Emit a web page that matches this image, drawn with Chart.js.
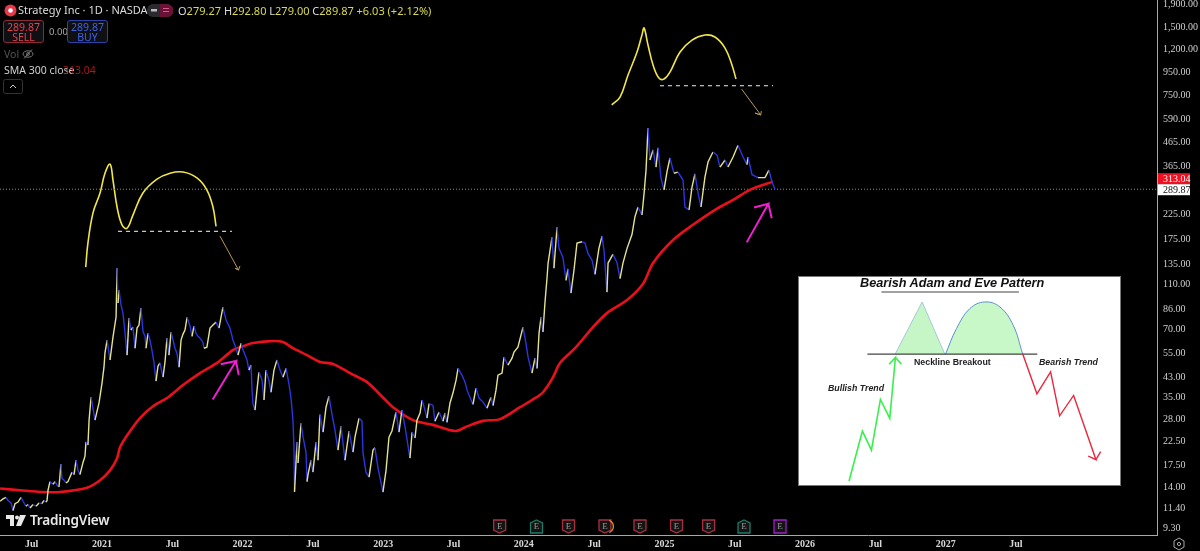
<!DOCTYPE html>
<html>
<head>
<meta charset="utf-8">
<title>Strategy Inc</title>
<script src="https://cdn.jsdelivr.net/npm/chart.js@4/dist/chart.umd.js"></script>
<style>
html, body { margin: 0; padding: 0; background: #000; overflow: hidden; }
#wrap { position: relative; width: 1200px; height: 551px; font-family: "Liberation Sans Narrow", "Noto Sans", sans-serif; }
#grafica { position: absolute; left: 0; top: 0; }
.t { position: absolute; white-space: nowrap; line-height: 1; }
#caja { position: absolute; left: 799px; top: 277px; width: 321px; height: 208px; background: #fff; box-shadow: 0 0 0 1px #777; }
#inset { position: absolute; left: 0; top: 0; }
.boton { position: absolute; box-sizing: border-box; width: 41px; height: 23px; top: 20px; border-radius: 3px; background: #101014; text-align: center; font-size: 10.5px; line-height: 10px; padding-top: 1px; }
</style>
</head>
<body>
<div id="wrap">
  <canvas id="grafica" width="1200" height="551"></canvas>

  <svg class="t" style="left:4px;top:4px" width="13" height="13"><circle cx="6.5" cy="6.5" r="6" fill="#e8384a"/><circle cx="6.5" cy="6.5" r="2.3" fill="#fff"/></svg>
  <div class="t" style="left:18px;top:4px;font-family:'Noto Sans';font-size:11px;color:#dcdcdc">Strategy Inc · 1D · NASDAQ</div>
  <svg class="t" style="left:147px;top:4px" width="26" height="13"><rect x="0" y="0" width="26" height="13" rx="6" fill="#2a2a2e"/><path d="M13 0h7a6 6 0 0 1 0 13h-7z" fill="#6a1238"/><rect x="4" y="5" width="6" height="2.5" fill="#bbb"/><rect x="16" y="4" width="6" height="1" fill="#d85a8a"/><rect x="16" y="7" width="6" height="1" fill="#d85a8a"/></svg>
  <div class="t" style="left:178px;top:5px;font-size:11px;color:#d9d94e"><span style="color:#ddd">O</span>279.27 <span style="color:#ddd">H</span>292.80 <span style="color:#ddd">L</span>279.00 <span style="color:#ddd">C</span>289.87 +6.03 (+2.12%)</div>

  <div class="boton" style="left:3px;border:1px solid #8c2a36;color:#e8404f">289.87<br>SELL</div>
  <div class="t" style="left:49px;top:27px;font-size:9.5px;color:#aaa">0.00</div>
  <div class="boton" style="left:67px;border:1px solid #2a44a8;color:#3c62e6">289.87<br>BUY</div>

  <div class="t" style="left:4px;top:49px;font-size:10.5px;color:#555">Vol</div>
  <svg class="t" style="left:22px;top:48px" width="12" height="12"><ellipse cx="6" cy="6" rx="5" ry="3.2" fill="none" stroke="#777"/><circle cx="6" cy="6" r="1.4" fill="none" stroke="#777"/><line x1="2" y1="10.5" x2="10" y2="1.5" stroke="#777"/></svg>
  <div class="t" style="left:4px;top:65px;font-size:10.5px;color:#cfcfcf">SMA 300 close</div>
  <div class="t" style="left:63px;top:65px;font-size:10.5px;color:#a81818">313.04</div>
  <svg class="t" style="left:3px;top:79px" width="20" height="15"><rect x="0.5" y="0.5" width="19" height="14" rx="2" fill="none" stroke="#333"/><path d="M7 9l3-3 3 3" fill="none" stroke="#ccc"/></svg>

  <svg class="t" style="left:6px;top:514px" width="20" height="13"><path d="M0 1h8v11h-4v-7h-4z" fill="#e8e8e8"/><circle cx="11" cy="3.5" r="2" fill="#e8e8e8"/><path d="M14 1h6l-5 11h-5z" fill="#e8e8e8"/></svg>
  <div class="t" style="left:30px;top:513px;font-family:'Noto Sans';font-size:13.6px;font-weight:600;color:#e8e8e8;letter-spacing:-0.2px">TradingView</div>

  <svg class="t" style="left:1172px;top:537px" width="14" height="14"><path d="M7 1l5 3v6l-5 3-5-3v-6z" fill="none" stroke="#aaa"/><circle cx="7" cy="7" r="1.6" fill="none" stroke="#aaa"/></svg>

  <div id="caja">
    <canvas id="inset" width="321" height="208"></canvas>
    <div class="t" style="left:61px;top:-1px;font:italic bold 12.7px 'Liberation Sans',sans-serif;color:#111">Bearish Adam and Eve Pattern</div>
    <div class="t" style="left:115px;top:80px;font:bold 8.8px 'Liberation Sans',sans-serif;color:#222">Neckline Breakout</div>
    <div class="t" style="left:240px;top:80px;font:italic bold 8.8px 'Liberation Sans',sans-serif;color:#222">Bearish Trend</div>
    <div class="t" style="left:29px;top:106px;font:italic bold 8.8px 'Liberation Sans',sans-serif;color:#222">Bullish Trend</div>
  </div>
</div>

<script>
//datos de la grafica
var priceYears = [2020.275,2020.296,2020.317,2020.331,2020.353,2020.367,2020.381,2020.403,2020.424,2020.438,2020.459,2020.474,2020.488,2020.509,2020.531,2020.552,2020.573,2020.587,2020.602,2020.609,2020.616,2020.630,2020.651,2020.666,2020.680,2020.694,2020.708,2020.715,2020.730,2020.744,2020.758,2020.772,2020.787,2020.801,2020.815,2020.829,2020.843,2020.865,2020.879,2020.886,2020.900,2020.908,2020.922,2020.950,2020.979,2021.000,2021.014,2021.021,2021.036,2021.057,2021.078,2021.100,2021.107,2021.114,2021.121,2021.135,2021.149,2021.163,2021.178,2021.192,2021.206,2021.220,2021.235,2021.249,2021.263,2021.277,2021.292,2021.306,2021.313,2021.327,2021.341,2021.355,2021.370,2021.384,2021.398,2021.412,2021.434,2021.448,2021.462,2021.476,2021.491,2021.505,2021.519,2021.533,2021.548,2021.562,2021.576,2021.590,2021.605,2021.626,2021.640,2021.654,2021.669,2021.683,2021.697,2021.718,2021.725,2021.746,2021.768,2021.789,2021.811,2021.832,2021.846,2021.860,2021.882,2021.910,2021.931,2021.953,2021.967,2021.989,2022.003,2022.031,2022.045,2022.060,2022.067,2022.074,2022.088,2022.102,2022.116,2022.138,2022.152,2022.166,2022.187,2022.202,2022.223,2022.244,2022.266,2022.287,2022.309,2022.330,2022.344,2022.358,2022.365,2022.369,2022.387,2022.394,2022.415,2022.430,2022.451,2022.458,2022.465,2022.486,2022.500,2022.522,2022.536,2022.550,2022.572,2022.593,2022.614,2022.636,2022.657,2022.678,2022.700,2022.728,2022.757,2022.785,2022.799,2022.828,2022.849,2022.856,2022.877,2022.899,2022.927,2022.941,2022.963,2022.998,2023.020,2023.041,2023.062,2023.091,2023.112,2023.133,2023.155,2023.190,2023.205,2023.226,2023.240,2023.262,2023.276,2023.297,2023.311,2023.326,2023.354,2023.368,2023.397,2023.425,2023.439,2023.453,2023.475,2023.496,2023.518,2023.532,2023.560,2023.582,2023.596,2023.638,2023.660,2023.681,2023.710,2023.738,2023.766,2023.781,2023.802,2023.816,2023.845,2023.859,2023.887,2023.916,2023.930,2023.958,2023.994,2024.015,2024.030,2024.058,2024.079,2024.094,2024.108,2024.122,2024.136,2024.150,2024.165,2024.172,2024.200,2024.214,2024.236,2024.250,2024.278,2024.300,2024.314,2024.335,2024.357,2024.378,2024.414,2024.435,2024.456,2024.485,2024.506,2024.534,2024.556,2024.570,2024.591,2024.599,2024.634,2024.663,2024.684,2024.705,2024.734,2024.769,2024.790,2024.812,2024.840,2024.855,2024.869,2024.883,2024.897,2024.919,2024.940,2024.954,2024.975,2024.997,2025.018,2025.039,2025.068,2025.096,2025.132,2025.146,2025.175,2025.196,2025.217,2025.239,2025.260,2025.288,2025.310,2025.345,2025.374,2025.395,2025.431,2025.452,2025.488,2025.523,2025.559,2025.587,2025.594,2025.623,2025.665,2025.715,2025.743,2025.765,2025.786];
var priceValues = [12.2,12.5,12.7,12.3,12.0,11.1,11.9,12.1,12.7,12.2,11.6,11.8,11.4,11.8,11.6,12.0,11.9,12.3,12.1,12.3,13.65,14.9,14.5,14.9,14.4,14.1,17.8,15.4,15.1,14.7,14.9,15.6,16.4,16.0,18.5,16.7,16.0,18.1,19.3,22.3,21.6,27.8,35.1,27.8,33.2,40.5,47.6,54.9,62.7,51.2,64.6,79.2,130,91.3,104,89.8,82.4,68.0,53.8,78.4,69.4,71.5,57.7,70.8,73.0,86.7,68,65.3,57.7,67.1,62.7,56.6,49.7,41.3,48.1,49.7,43,50.2,64,53.8,68,62.7,57.7,54.9,47.6,62.7,66.6,69.4,79,72.2,65.1,72.2,67.1,65.1,63.9,61.2,57.7,58.3,70.8,73,75.2,70.8,79,87.6,76.8,70.8,62.7,57.7,53.8,60.8,56.6,51.2,46.2,48.6,37.7,32.6,30.8,37.7,45.3,41.7,34.1,46.2,41.7,36.9,46.2,51.2,46.2,43,47,40,34.8,27.8,21.2,13.4,22.2,18,26.9,23.4,20,14.9,16,18.5,16.4,22.2,18.5,29.4,24.6,31.7,35.5,29.4,25.1,20.5,26.1,18.5,24.9,20.1,23.4,28.4,27.5,20,16.4,15.6,20.5,21,17.1,13.4,16.7,23.4,24.9,30.2,24.6,30.8,26,18.9,24.6,23.2,27.8,29.9,34.1,30.8,28.4,32.9,32.3,27.5,30.2,27.5,29.9,27.2,33.1,36.6,41.7,47,43.9,40.9,37.7,32.6,38.5,34.8,33.4,31.4,35.1,32.2,37.7,43.9,44.8,52.7,48.6,52.2,55.5,58.3,71.5,60.8,52.7,44.8,52.2,47,67.1,79,68,91.3,118,136,178,130,197,159,145,115,129,101,128,168,170,168,151,141,122,159,180,156,102,137,150,137,117,137,159,183,219,242,223,277,352,540,390,432,363,441,325,288,346,398,341,345,318,242,235,296,339,279,242,328,382,423,410,363,390,363,402,453,402,372,402,336,326,326,352,312,289.87];

var smaYears = [2020.275,2020.417,2020.580,2020.701,2020.893,2020.986,2021.057,2021.107,2021.128,2021.178,2021.270,2021.363,2021.462,2021.576,2021.697,2021.818,2021.931,2022.003,2022.074,2022.195,2022.287,2022.358,2022.458,2022.550,2022.643,2022.764,2022.885,2022.998,2023.069,2023.212,2023.354,2023.511,2023.596,2023.710,2023.831,2023.973,2024.058,2024.136,2024.207,2024.257,2024.364,2024.492,2024.591,2024.734,2024.848,2024.919,2025.061,2025.203,2025.374,2025.488,2025.608,2025.772];
var smaValues = [13.9,13.65,13.4,13.4,14.0,15.1,16.7,18.9,21.1,23.8,28.4,32,34.8,39.7,44.8,49.7,56.6,58.9,60.8,62,61.5,57.7,53.8,50.2,49.2,44.8,40.9,35,31.7,27.8,26.5,24.9,26.1,27.6,28.1,31.7,34.1,36.9,42.9,49.7,57.7,71.5,82.4,94.1,111,137,173,202,238,260,288,313.04];

var yTicks = [1900,1500,1200,950,750,590,465,365,225,175,135,110,86,70,55,43,35,28,22.5,17.5,14,11.4,9.3];
var xTicks = [2020.5,2021,2021.5,2022,2022.5,2023,2023.5,2024,2024.5,2025,2025.5,2026,2026.5,2027,2027.5];
var xTickLabels = ['Jul','2021','Jul','2022','Jul','2023','Jul','2024','Jul','2025','Jul','2026','Jul','2027','Jul'];

var lastPrice = 289.87;
var lastSma = 313.04;

var earningsYears = [2023.828,2024.090,2024.318,2024.577,2024.826,2025.086,2025.314,2025.566,2025.822];
var earningsKinds = ['miss','beat','miss','split','miss','miss','miss','beat','next'];

// dibujos a mano sobre el precio: anos y precios
var adamAYears = [2020.884,2020.900,2020.936,2020.986,2021.021,2021.057,2021.078,2021.107,2021.142,2021.178,2021.220,2021.291,2021.391,2021.484,2021.576,2021.675,2021.746,2021.789,2021.811];
var adamAValues = [131.5,168,228,279,341,374,318,242,202,195,223,279,321,341,345,325,287.5,242,199];
var neckAYears = [2021.114,2021.924];
var neckAValues = [189,189];
var arrowAYears = [2021.839,2021.971,2021.946,2021.971,2021.981];
var arrowAValues = [180,127.6,130,127.6,133];

var adamBYears = [2024.625,2024.684,2024.741,2024.805,2024.840,2024.855,2024.883,2024.919,2024.961,2024.997,2025.039,2025.111,2025.196,2025.288,2025.359,2025.431,2025.480,2025.509];
var adamBValues = [682,739,924,1167,1387,1489,1253,1023,896,887,952,1167,1318,1387,1359,1215,1023,887];
var neckBYears = [2024.968,2025.772];
var neckBValues = [829,829];
var arrowBYears = [2025.549,2025.685,2025.644,2025.685,2025.689];
var arrowBValues = [801,616,628,616,641];

var pinkAYears = [2021.787,2021.953,2021.844,2021.953,2021.972];
var pinkAValues = [34.3,50.7,49,50.7,44];
var pinkBYears = [2025.585,2025.739,2025.637,2025.739,2025.763];
var pinkBValues = [169,250,241,250,216];

// recuadro del patron
var riseX = [178,218,245,272,300,317,298,317,335];
var riseY = [648,498,555,403,460,277,297,277,297];
var fallX = [698,741,782,809,851,918,895,918,932];
var fallY = [265,386,320,452,391,584,573,584,560];
var neckX = [233,742];
var neckY = [267,267];
var peakX = [316,397,465];
var peakY = [267,110,267];
var humpX = [467,500,540,585,630,670,698];
var humpY = [267,190,130,110,125,180,265];
var underX = [275,687];
var underY = [80,80];

function pares(xs, ys) {
  return xs.map(function (x, i) { return { x: x, y: ys[i] }; });
}

function trazo(xs, ys, color, ancho, extra) {
  var d = { data: pares(xs, ys), borderColor: color, borderWidth: ancho, pointRadius: 0, tension: 0, fill: false };
  for (var k in extra) d[k] = extra[k];
  return d;
}

var xMin = 2020.2745, xMax = 2028.503;

var etiquetas = {
  id: 'etiquetas',
  afterDraw: function (chart) {
    var ctx = chart.ctx, sx = chart.scales.x, sy = chart.scales.y;
    ctx.save();
    // marcas de resultados
    earningsYears.forEach(function (a, i) {
      var k = earningsKinds[i], px = sx.getPixelForValue(a), top = 520, bot = 533;
      var color = k === 'beat' ? '#1f7a68' : (k === 'next' ? '#a020c8' : '#a83040');
      ctx.beginPath();
      if (k === 'miss' || k === 'split') {
        ctx.moveTo(px - 6, top); ctx.lineTo(px + 6, top); ctx.lineTo(px + 6, bot - 3); ctx.lineTo(px, bot); ctx.lineTo(px - 6, bot - 3);
      } else if (k === 'beat') {
        ctx.moveTo(px, top); ctx.lineTo(px + 6, top + 3); ctx.lineTo(px + 6, bot); ctx.lineTo(px - 6, bot); ctx.lineTo(px - 6, top + 3);
      } else {
        ctx.rect(px - 6, top, 12, bot - top);
      }
      ctx.closePath();
      ctx.fillStyle = '#141414';
      ctx.fill();
      ctx.strokeStyle = color;
      ctx.lineWidth = 1.3;
      ctx.stroke();
      if (k === 'split') {
        ctx.beginPath();
        ctx.arc(px + 2, 526.5, 6.5, -1.2, 1.2);
        ctx.strokeStyle = '#e09020';
        ctx.stroke();
      }
      ctx.fillStyle = '#9a9a9a';
      ctx.font = '9px "Liberation Sans Narrow"';
      ctx.textAlign = 'center';
      ctx.textBaseline = 'middle';
      ctx.fillText('E', px, 526.5);
    });
    // precio y media en el eje
    var badges = [[lastSma, '#f01020', '#ffffff', -3], [lastPrice, '#ffffff', '#111111', 0.5]];
    badges.forEach(function (b) {
      var py = sy.getPixelForValue(b[0]) + b[3];
      ctx.fillStyle = b[1];
      ctx.fillRect(1158, py - 5.5, 32, 11);
      ctx.fillStyle = b[2];
      ctx.font = '10px "Liberation Sans Narrow"';
      ctx.textAlign = 'left';
      ctx.textBaseline = 'middle';
      ctx.fillText(b[0].toFixed(2), 1163, py + 0.5);
    });
    ctx.restore();
  }
};

new Chart(document.getElementById('grafica'), {
  type: 'line',
  data: {
    datasets: [
      trazo(priceYears, priceValues, '#e6e38e', 1.4, {
        segment: {
          borderColor: function (c) { return c.p1.parsed.y >= c.p0.parsed.y ? '#e6e38e' : '#2b35e0'; }
        }
      }),
      trazo(smaYears, smaValues, '#e8101c', 2.6, { tension: 0.3 }),
      trazo([xMin, xMax], [lastPrice, lastPrice], '#8a8a8a', 1, { borderDash: [1, 2] }),
      trazo(adamAYears, adamAValues, '#f0e64a', 1.6, { tension: 0.4 }),
      trazo(neckAYears, neckAValues, '#c8c8c8', 1.2, { borderDash: [4, 4] }),
      trazo(arrowAYears, arrowAValues, '#b8965a', 1),
      trazo(adamBYears, adamBValues, '#f0e64a', 1.6, { tension: 0.4 }),
      trazo(neckBYears, neckBValues, '#c8c8c8', 1.2, { borderDash: [4, 4] }),
      trazo(arrowBYears, arrowBValues, '#b8965a', 1),
      trazo(pinkAYears, pinkAValues, '#f020d0', 2),
      trazo(pinkBYears, pinkBValues, '#f020d0', 2)
    ]
  },
  options: {
    responsive: false,
    animation: false,
    events: [],
    layout: { padding: 0 },
    plugins: { legend: { display: false }, tooltip: { enabled: false } },
    scales: {
      x: {
        type: 'linear',
        min: xMin,
        max: xMax,
        grid: { display: false, drawTicks: false },
        border: { display: true, color: '#a8a8a8', width: 1 },
        afterFit: function (s) { s.height = 15.5; s.paddingLeft = 0; s.paddingRight = 0; },
        afterBuildTicks: function (s) { s.ticks = xTicks.map(function (v) { return { value: v }; }); },
        ticks: {
          autoSkip: false,
          maxRotation: 0,
          padding: 3,
          color: '#d8d8d8',
          font: { family: '"Liberation Sans Narrow"', size: 10, weight: '700' },
          callback: function (v) { return xTickLabels[xTicks.indexOf(v)]; }
        }
      },
      y: {
        type: 'logarithmic',
        position: 'right',
        min: 8.62,
        max: 1979,
        grid: { display: false, drawTicks: false },
        border: { display: true, color: '#a8a8a8', width: 1 },
        afterFit: function (s) { s.width = 43; s.paddingTop = 0; s.paddingBottom = 0; },
        afterBuildTicks: function (s) { s.ticks = yTicks.map(function (v) { return { value: v }; }); },
        ticks: {
          autoSkip: false,
          padding: 6,
          color: '#d0d0d0',
          font: { family: '"Liberation Sans Narrow"', size: 10 },
          callback: function (v) {
            return Number(v).toLocaleString('en-US', { minimumFractionDigits: 2, maximumFractionDigits: 2 });
          }
        }
      }
    }
  },
  plugins: [etiquetas]
});

// recuadro con el patron de ejemplo
new Chart(document.getElementById('inset'), {
  type: 'line',
  data: {
    datasets: [
      trazo(riseX, riseY, '#38f04c', 1.6),
      trazo(fallX, fallY, '#e8283f', 1.4),
      trazo(neckX, neckY, '#444444', 1.3),
      trazo(underX, underY, '#444444', 1.2),
      trazo(peakX, peakY, '#a4c8d8', 1, { fill: { value: 267 }, backgroundColor: '#c6f6c6' }),
      trazo(humpX, humpY, '#5a90d0', 1, { tension: 0.4, fill: { value: 267 }, backgroundColor: '#c8f8c8' })
    ]
  },
  options: {
    responsive: false,
    animation: false,
    events: [],
    layout: { padding: 0 },
    plugins: { legend: { display: false }, tooltip: { enabled: false } },
    scales: {
      x: { type: 'linear', display: false, min: 28, max: 990 },
      y: { type: 'linear', display: false, min: 35, max: 660, reverse: true }
    }
  }
});
</script>
</body>
</html>
